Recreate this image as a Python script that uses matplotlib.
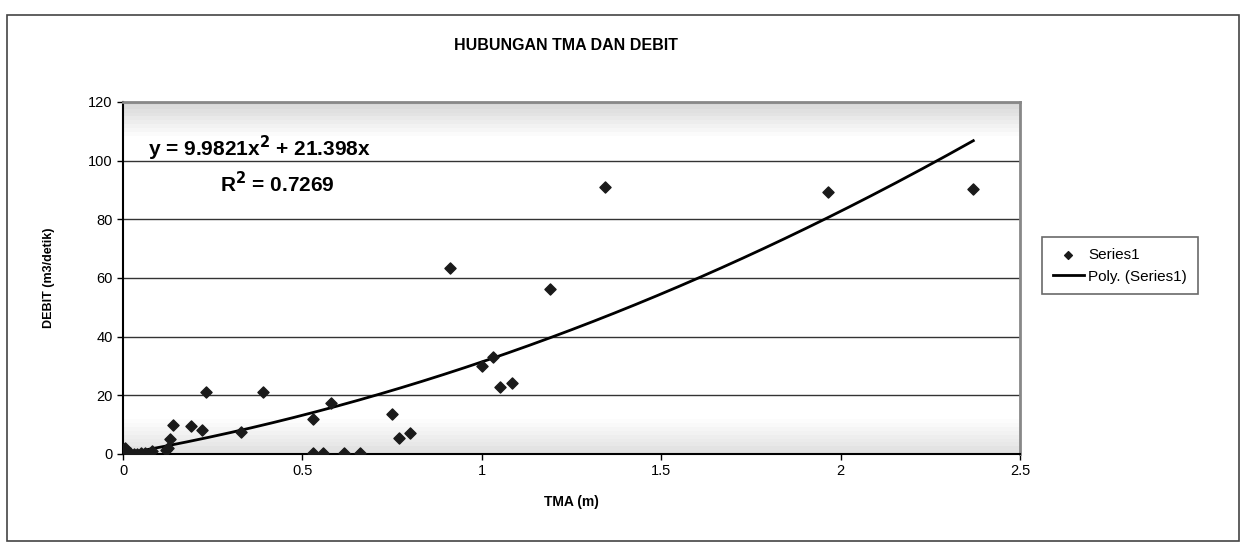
import matplotlib
matplotlib.use("Agg")
import matplotlib.pyplot as plt
import numpy as np

plt.rcParams['font.family'] = ['Liberation Sans', 'DejaVu Sans']

# data
tma = [0.005, 0.01, 0.02, 0.03, 0.04, 0.05, 0.06, 0.08, 0.12, 0.125, 0.13, 0.14,
       0.19, 0.22, 0.23, 0.33, 0.39, 0.53, 0.53, 0.557, 0.58, 0.616, 0.661,
       0.75, 0.77, 0.80, 0.911, 1.00, 1.03, 1.05, 1.085, 1.19, 1.343, 1.965, 2.37]
debit = [2.0, 1.0, 0.3, 0.0, 0.0, 0.3, 0.5, 1.0, 1.5, 2.0, 5.0, 10.0,
         9.5, 8.2, 21.0, 7.5, 21.0, 11.9, 0.3, 0.3, 17.4, 0.3, 0.3,
         13.6, 5.5, 7.0, 63.4, 30.0, 33.0, 22.8, 24.2, 56.3, 91.0, 89.3, 90.3]

coef_a = 9.9821
coef_b = 21.398
r2 = 0.7269

fig = plt.figure(figsize=(12.44, 5.45), dpi=100)
ax = fig.add_axes([0.0989, 0.167, 0.721, 0.646])

# outer chart frame
fig.patches.append(plt.Rectangle((0.006, 0.008), 0.99, 0.965, transform=fig.transFigure,
                                 fill=False, edgecolor='#444444', linewidth=1.2))

# grey-ish plot area like the scanned excel chart
grad = np.concatenate([np.linspace(0.84, 1.0, 10), np.ones(72), np.linspace(1.0, 0.88, 10)])
ax.imshow(grad[:, None], aspect='auto', cmap='gray', vmin=0, vmax=1,
          extent=[0, 2.5, 0, 120], zorder=0)

for yv in range(20, 121, 20):
    ax.axhline(yv, color='#333333', linewidth=1.0, zorder=1)

ax.scatter(tma, debit, marker='D', s=32, color='#1a1a1a', zorder=3, label='Series1')

xs = np.linspace(0, max(tma), 200)
ax.plot(xs, coef_a * xs**2 + coef_b * xs, color='black', linewidth=2.0, zorder=2,
        label='Poly. (Series1)')

ax.set_xlim(0, 2.5)
ax.set_ylim(0, 120)
ax.set_xticks([0, 0.5, 1, 1.5, 2, 2.5])
ax.set_xticklabels(['0', '0.5', '1', '1.5', '2', '2.5'])
ax.set_yticks(range(0, 121, 20))
ax.tick_params(labelsize=10.5, direction='out', length=4, width=1)

for s in ['left', 'bottom']:
    ax.spines[s].set_linewidth(1.5)
    ax.spines[s].set_color('black')
for s in ['top', 'right']:
    ax.spines[s].set_color('#888888')
    ax.spines[s].set_linewidth(2)

ax.set_xlabel('TMA (m)', fontsize=10, fontweight='bold', labelpad=12)
ax.set_ylabel('DEBIT (m3/detik)', fontsize=9, fontweight='bold', labelpad=24)
fig.text(0.455, 0.917, 'HUBUNGAN TMA DAN DEBIT', ha='center', va='center',
         fontsize=11.5, fontweight='bold')

ax.text(0.07, 104, r'y = 9.9821x$^{\mathbf{2}}$ + 21.398x', fontsize=15, fontweight='bold',
        va='center')
ax.text(0.27, 92, r'R$^{\mathbf{2}}$ = %.4f' % r2, fontsize=15, fontweight='bold', va='center')

leg = ax.legend(loc='center left', bbox_to_anchor=(1.025, 0.534), fontsize=11,
                frameon=True, fancybox=False, edgecolor='#444444', handlelength=2.0,
                handletextpad=0.3, borderpad=0.7, borderaxespad=0, markerscale=0.7)
leg.get_frame().set_linewidth(1.2)

fig.savefig('out.png', dpi=100, facecolor='white')
